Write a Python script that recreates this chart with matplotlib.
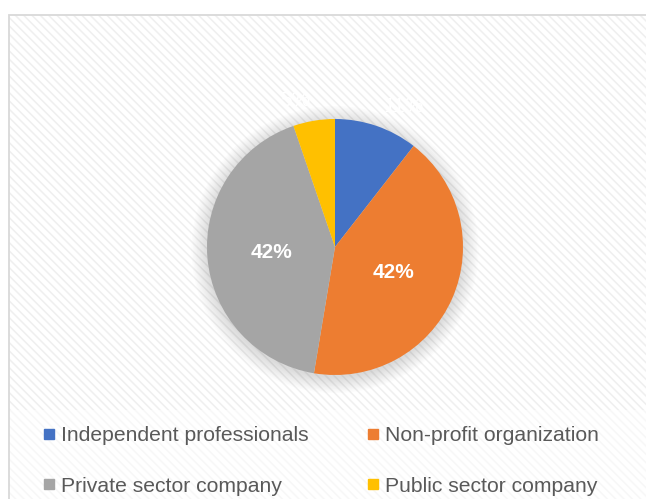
import math
import matplotlib.pyplot as plt
from matplotlib.patches import Rectangle, Circle
from matplotlib.lines import Line2D

plt.rcParams['hatch.linewidth'] = 1.1

categories = ['Independent professionals', 'Non-profit organization',
              'Private sector company', 'Public sector company']
values = [2, 8, 8, 1]
colors = ['#4472C4', '#ED7D31', '#A5A5A5', '#FFC000']

W, H = 646, 499
fig = plt.figure(figsize=(W / 100, H / 100), dpi=100)
fig.patch.set_facecolor('white')

# chart area: hatched background + light border (cut on right/bottom)
fig.patches.append(Rectangle((9 / W, -0.1), 1.2, (H - 15) / H + 0.1, transform=fig.transFigure,
                             facecolor='white', edgecolor='#efefef', hatch='\\\\\\\\', lw=0, zorder=-3))
fig.patches.append(Rectangle((9 / W, -0.1), 1.2, (H - 15) / H + 0.1, transform=fig.transFigure,
                             fill=False, edgecolor='#d9d9d9', lw=1.3, zorder=-1))
# lighter legend band
fig.patches.append(Rectangle((10 / W, 0), 1, 89 / H, transform=fig.transFigure,
                             facecolor='white', alpha=0.55, lw=0, zorder=-2))

cx, cy, r = 335, 499 - 247, 128
ax = fig.add_axes([(cx - r) / W, (cy - r) / H, 2 * r / W, 2 * r / H])

# soft shadow under the pie
for k in range(12):
    ax.add_patch(Circle((0, -0.02), 1 + 0.011 * k, facecolor='#808080', edgecolor='none',
                        alpha=0.022, zorder=0, clip_on=False))

wedges, texts, autotexts = ax.pie(
    values, colors=colors, startangle=90, counterclock=False, radius=1,
    autopct=lambda p: f'{p:.0f}%', pctdistance=0.5,
    wedgeprops=dict(linewidth=0))
for t in autotexts:
    t.set_color('white')
    t.set_fontsize(15)
    t.set_fontfamily('Liberation Sans')
    t.set_fontweight('bold')
ax.set_xlim(-1, 1)
ax.set_ylim(-1, 1)
ax.axis('off')

# small slices: label outside
total = sum(values)
for w, t, v in zip(wedges, autotexts, values):
    if v / total < 0.2:
        ang = math.radians((w.theta1 + w.theta2) / 2)
        x, y = 1.16 * math.cos(ang), 1.16 * math.sin(ang)
        t.set_position((x, y))
        t.set_ha('left' if x > 0 else 'right')
        t.set_va('center')
        t.set_fontweight('normal')

handles = [Line2D([], [], marker='s', linestyle='none', markersize=7,
                  markerfacecolor=c, markeredgecolor=c) for c in colors]
order = [0, 2, 1, 3]
fig.legend([handles[i] for i in order], [categories[i] for i in order], ncol=2,
           loc='upper left', bbox_to_anchor=(42 / W, (H - 426) / H), frameon=False,
           prop=dict(family='Liberation Sans', size=15.2), labelcolor='#595959',
           handlelength=0.7, handletextpad=0.2, columnspacing=2.7, labelspacing=1.5,
           borderpad=0, borderaxespad=0)

fig.savefig('out.png', dpi=100)
